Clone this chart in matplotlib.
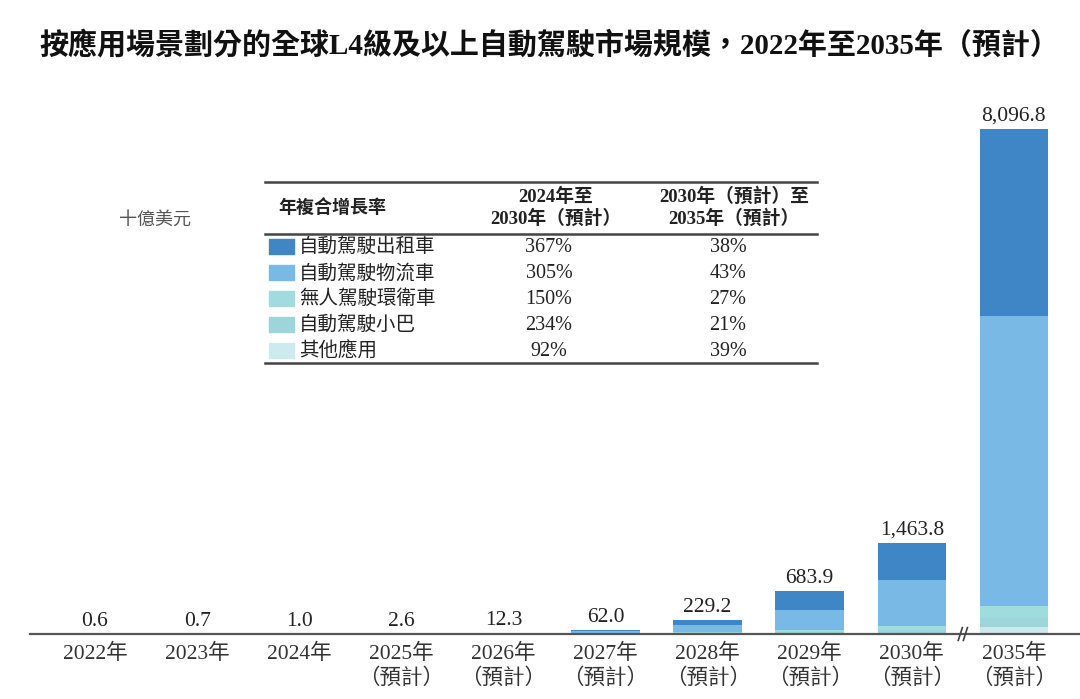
import matplotlib
matplotlib.use("Agg")
import matplotlib.pyplot as plt
from matplotlib.patches import Rectangle
import numpy as np

plt.rcParams['font.family'] = ['Liberation Serif', 'Noto Sans CJK TC', 'DejaVu Sans']

# ---------------- data ----------------
years = ["2022年", "2023年", "2024年", "2025年\n（預計）", "2026年\n（預計）", "2027年\n（預計）",
         "2028年\n（預計）", "2029年\n（預計）", "2030年\n（預計）", "2035年\n（預計）"]
totals = [0.6, 0.7, 1.0, 2.6, 12.3, 62.0, 229.2, 683.9, 1463.8, 8096.8]
total_labels = ["0.6", "0.7", "1.0", "2.6", "12.3", "62.0", "229.2", "683.9", "1,463.8", "8,096.8"]

series_names = ["自動駕駛出租車", "自動駕駛物流車", "無人駕駛環衛車", "自動駕駛小巴", "其他應用"]
taxi       = [0.03, 0.05, 0.10, 0.5, 3.5, 20.0, 85.0, 300.0, 590.0, 3000.0]
logistics  = [0.07, 0.10, 0.20, 1.0, 6.5, 33.0, 118.0, 320.0, 750.0, 4650.0]
sanitation = [0.22, 0.25, 0.30, 0.5, 1.2, 4.0, 12.0, 30.0, 60.0, 190.0]
minibus    = [0.02, 0.02, 0.05, 0.2, 0.6, 3.0, 9.0, 22.0, 44.0, 150.0]
others     = [0.26, 0.28, 0.35, 0.4, 0.5, 2.0, 5.2, 11.9, 19.8, 106.8]

cagr_2024_2030 = ["367%", "305%", "150%", "234%", "92%"]
cagr_2030_2035 = ["38%", "43%", "27%", "21%", "39%"]

colors = ["#3F86C6", "#78B9E5", "#A0DCDE", "#9DD5DA", "#CDEAEF"]

# ---------------- layout ----------------
W, H = 1080, 699
fig = plt.figure(figsize=(W / 100, H / 100), dpi=100)

base_px = 634
top_px = 100
ax = fig.add_axes([0, (H - base_px) / H, 1, (base_px - top_px) / H])
x0_px, step_px = 95, 102.1
ax.set_xlim(-x0_px / step_px, (W - x0_px) / step_px)
ymax = totals[-1] * (base_px - top_px) / (base_px - 129)
ax.set_ylim(0, ymax)

x = np.arange(len(years))
bottom = np.zeros(len(years))
for vals, c in zip([others, minibus, sanitation, logistics, taxi], colors[::-1]):
    ax.bar(x, vals, bottom=bottom, width=0.67, color=c, edgecolor='none', zorder=2)
    bottom += np.array(vals)

for xi, t, lab in zip(x, totals, total_labels):
    ax.text(xi, t + ymax * 0.006, lab, ha='center', va='bottom', fontsize=15.5, color='#222222')

for s in ['top', 'right', 'left']:
    ax.spines[s].set_visible(False)
ax.spines['bottom'].set_color('#555555')
ax.spines['bottom'].set_linewidth(1.6)
ax.spines['bottom'].set_bounds(-65 / step_px, (W - x0_px) / step_px)
ax.set_yticks([])
ax.set_xticks(x)
ax.set_xticklabels(years, fontsize=15.5, color='#333333', linespacing=1.3)
ax.tick_params(axis='x', length=0, pad=7)

# axis break mark
bx = 8.5
for dx in (-0.025, 0.025):
    ax.plot([bx + dx - 0.02, bx + dx + 0.02], [-ymax * 0.012, ymax * 0.012],
            color='#444444', lw=1.2, clip_on=False, zorder=5)

# ---------------- title ----------------
fig.text(549 / W, 1 - 45 / H,
         "按應用場景劃分的全球L4級及以上自動駕駛市場規模，2022年至2035年（預計）",
         ha='center', va='center', fontsize=20.9, fontweight='bold', color='#111111')

# unit label
fig.text(155 / W, 1 - 220 / H, "十億美元", ha='center', va='center', fontsize=13,
         style='italic', color='#555555')

# ---------------- CAGR table ----------------
def fx(px):
    return px / W

def fy(py):
    return 1 - py / H

tl, tr = 265, 817
fig.add_artist(plt.Line2D([fx(tl), fx(tr)], [fy(182), fy(182)], color='#444444', lw=1.8))
fig.add_artist(plt.Line2D([fx(tl), fx(tr)], [fy(234), fy(234)], color='#444444', lw=1.8))
fig.add_artist(plt.Line2D([fx(tl), fx(tr)], [fy(363), fy(363)], color='#444444', lw=1.8))

fig.text(fx(278), fy(209), "年複合增長率", ha='left', va='center', fontsize=13,
         fontweight='bold', style='italic', color='#222222')
fig.text(fx(556), fy(208), "2024年至\n2030年（預計）", ha='center', va='center', fontsize=13.5,
         fontweight='bold', color='#222222', linespacing=1.25)
fig.text(fx(734), fy(208), "2030年（預計）至\n2035年（預計）", ha='center', va='center', fontsize=13.5,
         fontweight='bold', color='#222222', linespacing=1.25)

row_y = [247, 273, 299, 325, 351]
for ry, name, c, a, b in zip(row_y, series_names, colors, cagr_2024_2030, cagr_2030_2035):
    fig.add_artist(Rectangle((fx(269), fy(ry + 7)), 25 / W, 15 / H, color=c,
                             transform=fig.transFigure))
    fig.text(fx(299), fy(ry), name, ha='left', va='center', fontsize=14, color='#222222')
    fig.text(fx(549), fy(ry), a, ha='center', va='center', fontsize=14.5, color='#222222')
    fig.text(fx(728), fy(ry), b, ha='center', va='center', fontsize=14.5, color='#222222')

fig.savefig("out.png", dpi=100)
